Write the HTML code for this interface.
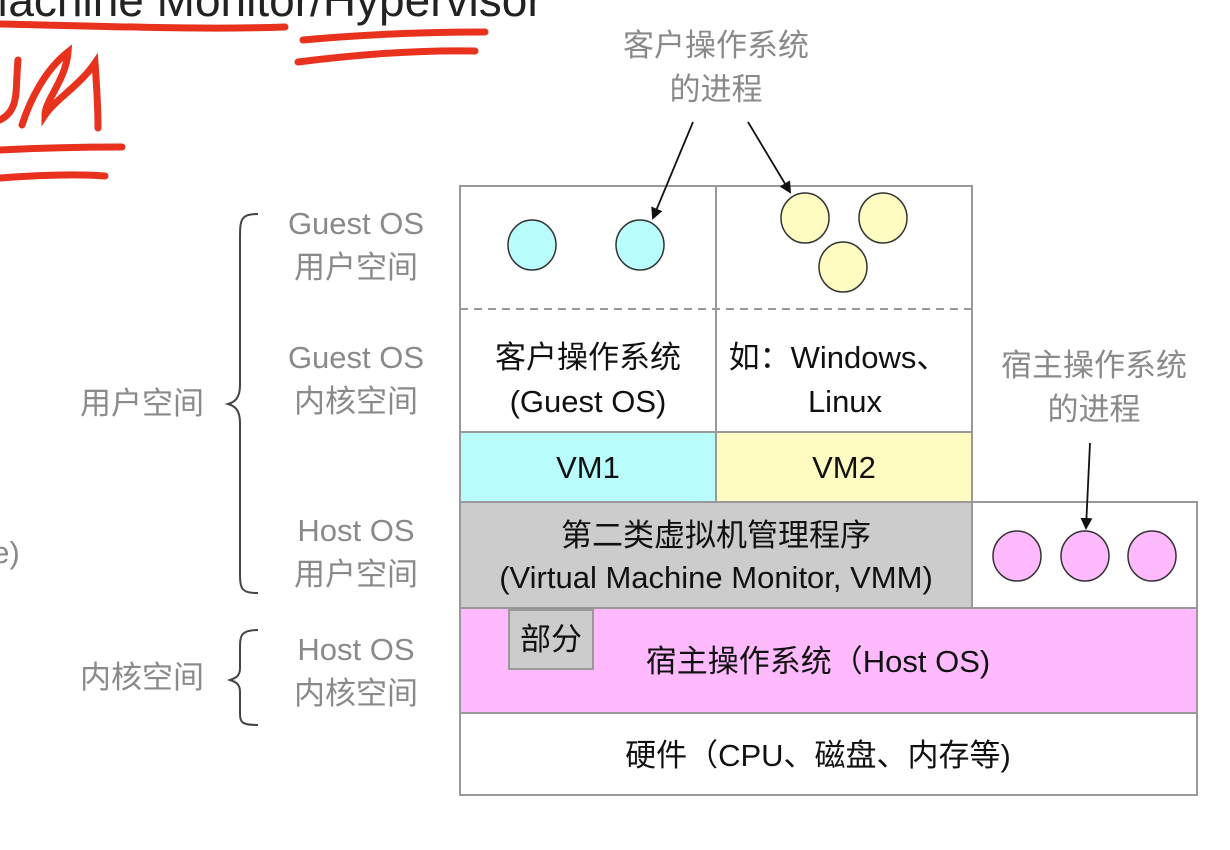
<!DOCTYPE html>
<html><head><meta charset="utf-8"><style>
html,body{margin:0;padding:0;background:#fff;width:1230px;height:850px;overflow:hidden}
svg text{font-family:"Liberation Sans","Noto Sans CJK SC",sans-serif}
</style></head><body>
<svg width="1230" height="850" viewBox="0 0 1230 850" xmlns="http://www.w3.org/2000/svg">
<defs><marker id="a" markerWidth="12" markerHeight="12" refX="10" refY="6" orient="auto" markerUnits="userSpaceOnUse"><path d="M0,0 L12,6 L0,12 Z" fill="#111"/></marker></defs>
<text x="-30" y="16" font-size="46" fill="#222">Machine Monitor/Hypervisor</text>
<g stroke="#e8321e" stroke-width="7" fill="none" stroke-linecap="round">
<path d="M0,24 C100,26 200,30 285,27"/>
<path d="M303,40 C380,33 440,32 485,32"/>
<path d="M298,62 C360,54 420,50 475,51"/>
<path d="M0,120 C20,110 15,90 18,60 M22,125 C30,100 45,70 68,52 C66,80 45,100 45,115 C55,100 80,85 95,63 C97,90 98,110 98,128"/>
<path d="M0,150 C40,148 90,147 122,147"/>
<path d="M0,178 C40,175 80,174 105,176"/>
</g>
<g fill="#8a8a8a" font-size="31" text-anchor="middle">
<text x="356" y="234">Guest OS</text><text x="356" y="278">用户空间</text>
<text x="356" y="368">Guest OS</text><text x="356" y="412">内核空间</text>
<text x="356" y="541">Host OS</text><text x="356" y="585">用户空间</text>
<text x="356" y="660">Host OS</text><text x="356" y="704">内核空间</text>
<text x="142" y="414">用户空间</text>
<text x="142" y="688">内核空间</text>
<text x="6" y="563">e)</text>
</g>
<g stroke="#444" stroke-width="2" fill="none">
<path d="M258,214 C240,214 240,220 240,240 L240,385 C240,398 235,402 228,404 C235,406 240,410 240,423 L240,570 C240,588 240,593 258,593"/>
<path d="M258,630 C240,630 240,636 240,650 L240,668 C240,676 236,678 230,680 C236,682 240,684 240,692 L240,710 C240,722 240,725 258,725"/>
</g>
<g stroke="#999" stroke-width="2">
<rect x="460" y="186" width="512" height="246" fill="#fff"/>
<line x1="716" y1="186" x2="716" y2="432"/>
<rect x="460" y="432" width="256" height="70" fill="#b8fcfc"/>
<rect x="716" y="432" width="256" height="70" fill="#fefcc0"/>
<rect x="460" y="502" width="512" height="106" fill="#cccccc"/>
<rect x="972" y="502" width="225" height="106" fill="#fff"/>
<rect x="460" y="608" width="737" height="105" fill="#ffbafe"/>
<rect x="460" y="713" width="737" height="82" fill="#fff"/>
<rect x="509" y="610" width="84" height="59" fill="#cccccc"/>
</g>
<line x1="460" y1="309" x2="972" y2="309" stroke="#999" stroke-width="2" stroke-dasharray="8,6"/>
<g stroke="#333" stroke-width="1.5">
<ellipse cx="532" cy="245" rx="24" ry="25" fill="#b8fcfc"/>
<ellipse cx="640" cy="245" rx="24" ry="25" fill="#b8fcfc"/>
<ellipse cx="805" cy="218" rx="24" ry="25" fill="#fefcc0"/>
<ellipse cx="883" cy="218" rx="24" ry="25" fill="#fefcc0"/>
<ellipse cx="843" cy="267" rx="24" ry="25" fill="#fefcc0"/>
<ellipse cx="1017" cy="556" rx="24" ry="25" fill="#ffbafe"/>
<ellipse cx="1085" cy="556" rx="24" ry="25" fill="#ffbafe"/>
<ellipse cx="1152" cy="556" rx="24" ry="25" fill="#ffbafe"/>
</g>
<g stroke="#111" stroke-width="1.8" marker-end="url(#a)">
<line x1="693" y1="122" x2="653" y2="218"/>
<line x1="748" y1="122" x2="790" y2="192"/>
<line x1="1090" y1="443" x2="1086" y2="528"/>
</g>
<g fill="#8a8a8a" font-size="31" text-anchor="middle">
<text x="716" y="56">客户操作系统</text><text x="716" y="100">的进程</text>
<text x="1094" y="376">宿主操作系统</text><text x="1094" y="420">的进程</text>
</g>
<g fill="#111" font-size="31" text-anchor="middle">
<text x="588" y="368">客户操作系统</text><text x="588" y="412">(Guest OS)</text>
<text x="838" y="368">如：Windows、</text><text x="845" y="412">Linux</text>
<text x="588" y="478">VM1</text><text x="844" y="478">VM2</text>
<text x="716" y="546">第二类虚拟机管理程序</text>
<text x="716" y="588">(Virtual Machine Monitor, VMM)</text>
<text x="551" y="650">部分</text>
<text x="818" y="672">宿主操作系统（Host OS)</text>
<text x="818" y="766">硬件（CPU、磁盘、内存等)</text>
</g>
</svg>
</body></html>
